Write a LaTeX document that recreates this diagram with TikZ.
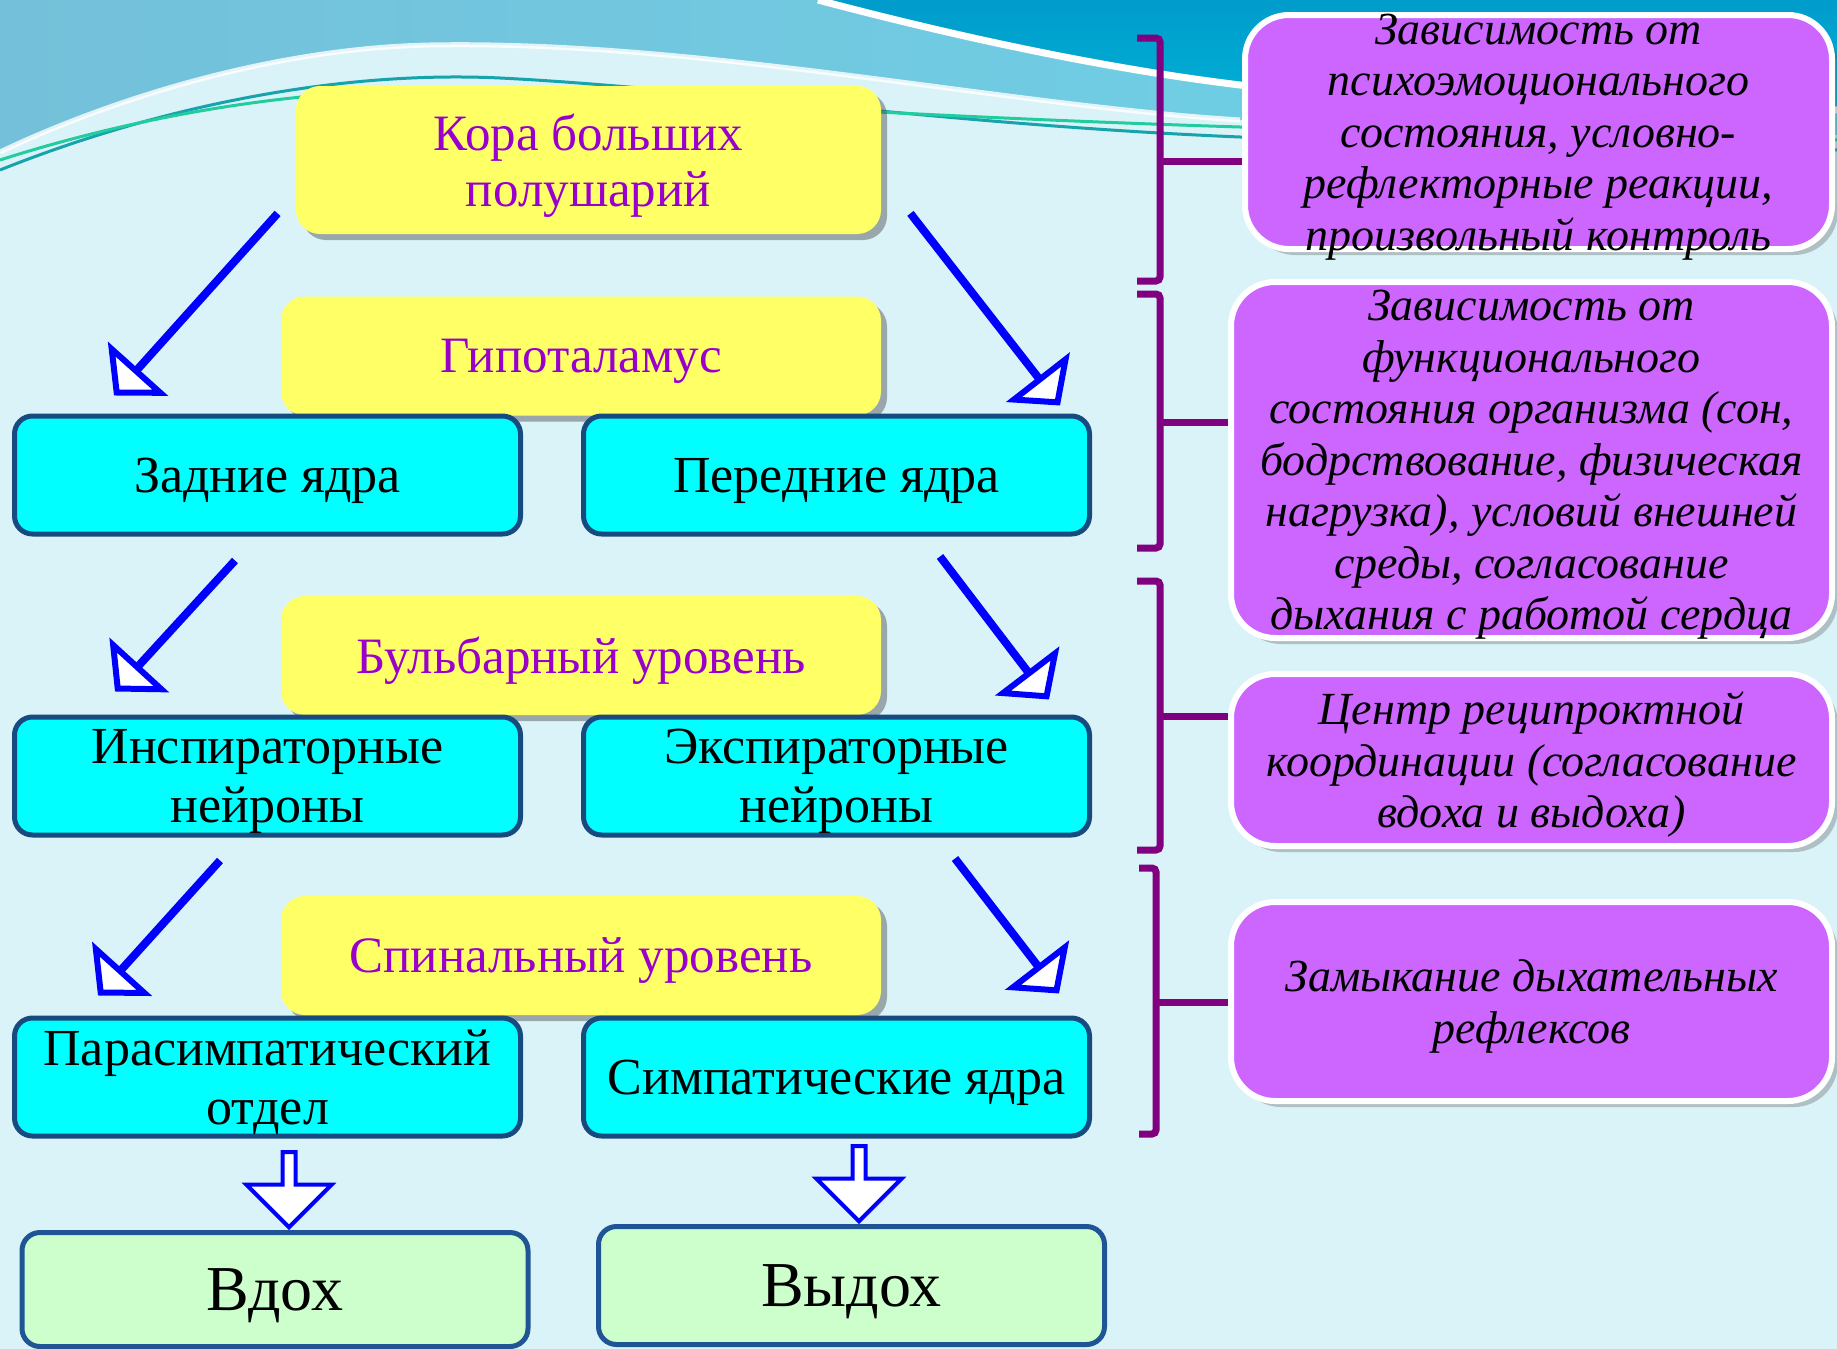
\documentclass[tikz,border=0pt]{standalone}
\usepackage{fontspec}
\setmainfont{Liberation Serif}
\usepackage{tikz}
\usetikzlibrary{arrows.meta,positioning,shapes.arrows,shadows}
\definecolor{bgcyan}{HTML}{DAF3F8}
\definecolor{skyblue}{HTML}{74C0DA}
\definecolor{bandblue}{HTML}{6DD4E8}
\definecolor{deepteal}{HTML}{009CCB}
\definecolor{waveteal}{HTML}{16A3AB}
\definecolor{wavegreen}{HTML}{22CC9E}
\definecolor{lvlyellow}{HTML}{FFFF66}
\definecolor{lvltext}{HTML}{9900CC}
\definecolor{nucfill}{HTML}{00FFFF}
\definecolor{nucedge}{HTML}{174A7E}
\definecolor{outfill}{HTML}{CCFFCC}
\definecolor{outedge}{HTML}{1F5595}
\definecolor{notefill}{HTML}{CC66FF}
\definecolor{bracecol}{HTML}{800080}

\begin{document}
\begin{tikzpicture}[x=0.5pt,y=-0.5pt,
    every node/.style={align=center,inner sep=0pt},
    level/.style={rectangle,rounded corners=12pt,fill=lvlyellow,text=lvltext,text depth=0pt,
      font=\fontsize{25.5}{28}\selectfont,minimum width=300pt,minimum height=59.5pt,
      drop shadow={shadow xshift=3pt,shadow yshift=-3pt,opacity=.45,fill=black!70}},
    nucleus/.style={rectangle,rounded corners=9pt,draw=nucedge,line width=2.5pt,fill=nucfill,
      text depth=0pt,font=\fontsize{26}{29.5}\selectfont,minimum width=253pt,minimum height=59pt},
    result/.style={rectangle,rounded corners=9pt,draw=outedge,line width=2.5pt,fill=outfill,
      text depth=0pt,font=\fontsize{32}{36}\selectfont,minimum width=253pt,minimum height=57pt},
    note/.style={rectangle,rounded corners=22pt,draw=white,line width=3pt,fill=notefill,
      minimum width=300.5pt,
      drop shadow={shadow xshift=3pt,shadow yshift=-3pt,opacity=.3,fill=black!70}},
    notetext/.style={text depth=0pt,font=\fontsize{23}{25.75}\selectfont\itshape},
    arr/.style={-{Triangle[length=18pt,width=40pt,fill=white,line width=3pt]},line width=4pt,color=blue},
    downarr/.style={single arrow,draw=blue,fill=white,line width=2pt,shape border rotate=270,
      inner sep=2.25pt,single arrow head extend=18pt,minimum height=37.5pt,anchor=tip},
    brace/.style={draw=bracecol,line width=3.5pt,rounded corners=2pt}
  ]
    \useasboundingbox (0,0) rectangle (1837,1349);
    % background
    \fill[bgcyan] (0,0) rectangle (1837,1349);
    \shade[left color=skyblue,right color=bandblue] (0,0) -- (1837,0) -- (1837,135) -- (1240,120)
      .. controls (1000,105) and (700,40) .. (430,45) .. controls (280,48) and (120,95) .. (0,152) -- cycle;
    \draw[white,line width=2.5pt,opacity=.8] (1240,120) .. controls (1000,105) and (700,40) .. (430,45)
      .. controls (280,48) and (120,95) .. (0,152);
    \shade[top color=deepteal,bottom color=deepteal!80!cyan] (818,0) .. controls (950,35) and (1100,68) .. (1240,85)
      -- (1837,110) -- (1837,0) -- cycle;
    \draw[white,line width=3.5pt] (818,0) .. controls (950,35) and (1100,68) .. (1240,85) -- (1837,110);
    \draw[waveteal,line width=1.5pt] (0,170) .. controls (150,110) and (330,70) .. (500,78)
      .. controls (700,88) and (950,125) .. (1240,137) -- (1837,150);
    \draw[wavegreen,line width=1.5pt] (0,160) .. controls (150,112) and (330,82) .. (500,92)
      .. controls (700,102) and (950,118) .. (1240,127) -- (1837,140);

    % levels
    \node[level,minimum width=292.5pt,minimum height=74pt] (kora) at (588.5,160) {Кора больших\\полушарий};
    \node[level] (gipo) at (581,356) {Гипоталамус};
    \node[level] (bulb) at (581,655.5) {Бульбарный уровень};
    \node[level] (spin) at (581,955.5) {Спинальный уровень};

    % nuclei
    \node[nucleus] (zad) at (267.5,475) {Задние ядра};
    \node[nucleus,right=29pt of zad] (pered) {Передние ядра};
    \node[nucleus,below=89pt of zad] (insp) {Инспираторные\\нейроны};
    \node[nucleus,right=29pt of insp] (exp) {Экспираторные\\нейроны};
    \node[nucleus,below=89pt of insp] (para) {Парасимпатический\\отдел};
    \node[nucleus,right=29pt of para] (simp) {Симпатические ядра};

    % results
    \node[result] (vdoh) at (275,1289.5) {Вдох};
    \node[result,minimum height=59pt] (vydoh) at (851.5,1285.5) {Выдох};

    \draw[arr] ([shift={(-18,-21)}]kora.south west) -- ([shift={(102,-18)}]zad.north west);
    \draw[arr] ([shift={(29,-21)}]kora.south east) -- ([shift={(-32,-8)}]pered.north east);
    \draw[arr] ([shift={(223,24)}]zad.south west) -- ([shift={(103,-23)}]insp.north west);
    \draw[arr] ([shift={(-152,20)}]pered.south east) -- ([shift={(-43,-15)}]exp.north east);
    \draw[arr] ([shift={(208,23)}]insp.south west) -- ([shift={(86,-20)}]para.north west);
    \draw[arr] ([shift={(-137,21)}]exp.south east) -- ([shift={(-33,-22)}]simp.north east);
    \node[downarr] (inhale) at ([shift={(14,0)}]vdoh.north) {};
    \node[downarr] (exhale) at ([shift={(7.5,0)}]vydoh.north) {};

    % notes
    \node[note,minimum width=293.5pt,minimum height=117pt] (p1) at (1538.5,132) {};
    \node[note,minimum height=178pt] (p2) at (1531.5,460) {};
    \node[note,minimum height=86pt] (p3) at (1531.5,760) {};
    \node[note,minimum height=99.5pt] (p4) at (1531.5,1001.5) {};
    \node[notetext] (p1t) at (p1) {Зависимость от\\психоэмоционального\\состояния, условно-\\рефлекторные реакции,\\произвольный контроль};
    \node[notetext] (p2t) at (p2) {Зависимость от\\функционального\\состояния организма (сон,\\бодрствование, физическая\\нагрузка), условий внешней\\среды, согласование\\дыхания с работой сердца};
    \node[notetext] (p3t) at (p3) {Центр реципроктной\\координации (согласование\\вдоха и выдоха)};
    \node[notetext] (p4t) at (p4) {Замыкание дыхательных\\рефлексов};

    % brackets
    \draw[brace] (1137,38) -- (1160,38) -- (1160,281) -- (1137,281);
    \draw[brace] (1137,294) -- (1160,294) -- (1160,548) -- (1137,548);
    \draw[brace] (1137,581) -- (1160,581) -- (1160,850) -- (1137,850);
    \draw[brace] (1139,868) -- (1156,868) -- (1156,1134) -- (1139,1134);
    \coordinate (b1) at (1160,161);
    \coordinate (b2) at (1160,422);
    \coordinate (b3) at (1160,716);
    \coordinate (b4) at (1156,1002);
    \draw[brace] (b1) -- (b1 -| p1.west);
    \draw[brace] (b2) -- (b2 -| p2.west);
    \draw[brace] (b3) -- (b3 -| p3.west);
    \draw[brace] (b4) -- (b4 -| p4.west);
  \end{tikzpicture}
\end{document}
